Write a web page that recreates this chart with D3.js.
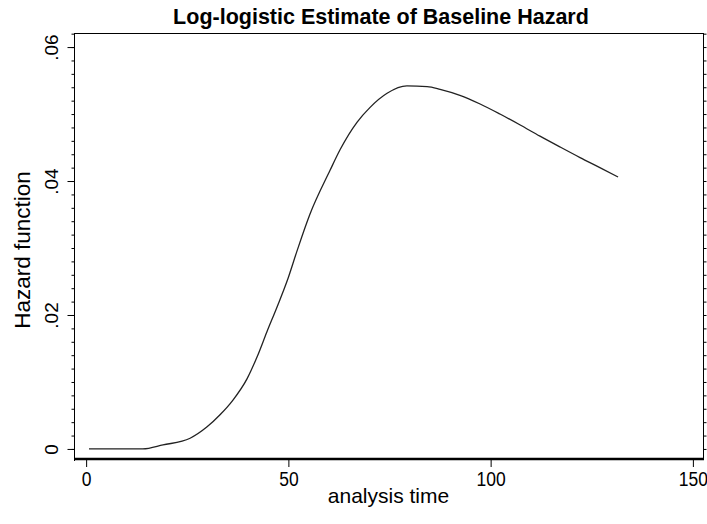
<!DOCTYPE html>
<html>
<head>
<meta charset="utf-8">
<script src="https://cdn.jsdelivr.net/npm/d3@7"></script>
<style>
  html, body { margin: 0; padding: 0; background: #fff; }
  svg { display: block; font-family: "Liberation Sans", Arial, sans-serif; }
</style>
</head>
<body>
<div id="chart"></div>
<script>
// --- Data ---
const timeValues = [0.7, 14, 19, 25.7, 29.9, 33.1, 36.3, 39.8, 42.3, 44.7, 47.2, 49.7, 52.1,
  55.3, 60.3, 62.8, 67, 70.2, 74.4, 79.3, 84.3, 87.5, 92.4, 97.4, 102.3, 107.2, 112.2,
  117.1, 122.1, 127, 131.5];
const hazardValues = [0, 0, 0.0006, 0.0016, 0.0033, 0.0051, 0.0073, 0.0105, 0.0138, 0.0175,
  0.0212, 0.0251, 0.0295, 0.0350, 0.0416, 0.0447, 0.0488, 0.0510, 0.0531, 0.0542, 0.0541,
  0.0537, 0.0528, 0.0515, 0.0500, 0.0484, 0.0467, 0.0451, 0.0435, 0.0420, 0.0406];
const xTicks = [0, 50, 100, 150];
const yTicks = [0, 0.02, 0.04, 0.06];
const yTickLabels = ['0', '.02', '.04', '.06'];
const yMinorStep = 0.002;

const titleText = 'Log-logistic Estimate of Baseline Hazard';
const xLabel = 'analysis time';
const yLabel = 'Hazard function';

// --- Layout ---
const W = 707, H = 524;
const plot = { left: 74, right: 703, top: 33, bottom: 459 };
const FONT = '"Liberation Sans", Arial, sans-serif';

const svg = d3.select('#chart').append('svg')
  .attr('width', W).attr('height', H);

const x = d3.scaleLinear().domain([-3, 152.5]).range([plot.left, plot.right]);
const y = d3.scaleLinear().domain([-0.0015, 0.0621]).range([plot.bottom, plot.top]);

// frame: thin top/right, thick bottom (drawn with the x axis)
svg.append('line')
  .attr('x1', plot.left).attr('x2', plot.right + 1)
  .attr('y1', plot.top + 0.5).attr('y2', plot.top + 0.5)
  .attr('stroke', '#000').attr('stroke-width', 1);
svg.append('line')
  .attr('x1', plot.right + 0.5).attr('x2', plot.right + 0.5)
  .attr('y1', plot.top).attr('y2', plot.bottom)
  .attr('stroke', '#000').attr('stroke-width', 1);

// minor ticks, both sides
const minor = d3.range(0, 0.0621, yMinorStep);
const yLeftMinor = svg.append('g')
  .attr('transform', `translate(${plot.left + 0.5},0)`)
  .call(d3.axisLeft(y).tickValues(minor).tickSize(3).tickFormat(''));
yLeftMinor.select('.domain').remove();
const yRightMinor = svg.append('g')
  .attr('transform', `translate(${plot.right + 0.5},0)`)
  .call(d3.axisRight(y).tickValues(minor).tickSize(3).tickFormat(''));
yRightMinor.select('.domain').remove();

// major y ticks + rotated labels
const yAxis = svg.append('g')
  .attr('transform', `translate(${plot.left + 0.5},0)`)
  .call(d3.axisLeft(y).tickValues(yTicks).tickSize(7)
    .tickFormat((d, i) => yTickLabels[i]));
yAxis.select('.domain').attr('d', `M0,${plot.top}V${plot.bottom + 2}`);
yAxis.selectAll('.tick text')
  .attr('font-size', 19).attr('fill', '#000').attr('font-family', FONT)
  .attr('text-anchor', 'middle')
  .attr('x', 0).attr('y', 0).attr('dy', 0)
  .attr('transform', 'translate(-17,0) rotate(-90)');

// x axis
const xAxis = svg.append('g')
  .attr('transform', `translate(0,${plot.bottom})`)
  .call(d3.axisBottom(x).tickValues(xTicks).tickSize(8).tickPadding(4).tickFormat(d3.format('d')));
xAxis.select('.domain')
  .attr('d', `M${plot.left},0H${plot.right + 1}`)
  .attr('stroke-width', 2.5);
xAxis.selectAll('.tick text')
  .attr('font-size', 17.5).attr('fill', '#000').attr('font-family', FONT)
  .attr('transform', 'scale(1,1.12)');

svg.selectAll('.tick line').attr('stroke', '#000');

// curve
const data = timeValues.map((t, i) => ({ t, h: hazardValues[i] }));
svg.append('path')
  .datum(data)
  .attr('fill', 'none')
  .attr('stroke', '#222')
  .attr('stroke-width', 1.3)
  .attr('d', d3.line().x(d => x(d.t)).y(d => y(d.h)).curve(d3.curveMonotoneX));

// title and labels
svg.append('text')
  .attr('x', 381).attr('y', 24)
  .attr('text-anchor', 'middle')
  .attr('font-size', 21.5).attr('font-weight', 'bold')
  .text(titleText);

svg.append('text')
  .attr('x', (plot.left + plot.right) / 2).attr('y', 503)
  .attr('text-anchor', 'middle')
  .attr('font-size', 21)
  .text(xLabel);

svg.append('text')
  .attr('transform', `translate(30,${(plot.top + plot.bottom) / 2 + 4}) rotate(-90)`)
  .attr('text-anchor', 'middle')
  .attr('font-size', 22.5)
  .text(yLabel);
</script>
</body>
</html>
